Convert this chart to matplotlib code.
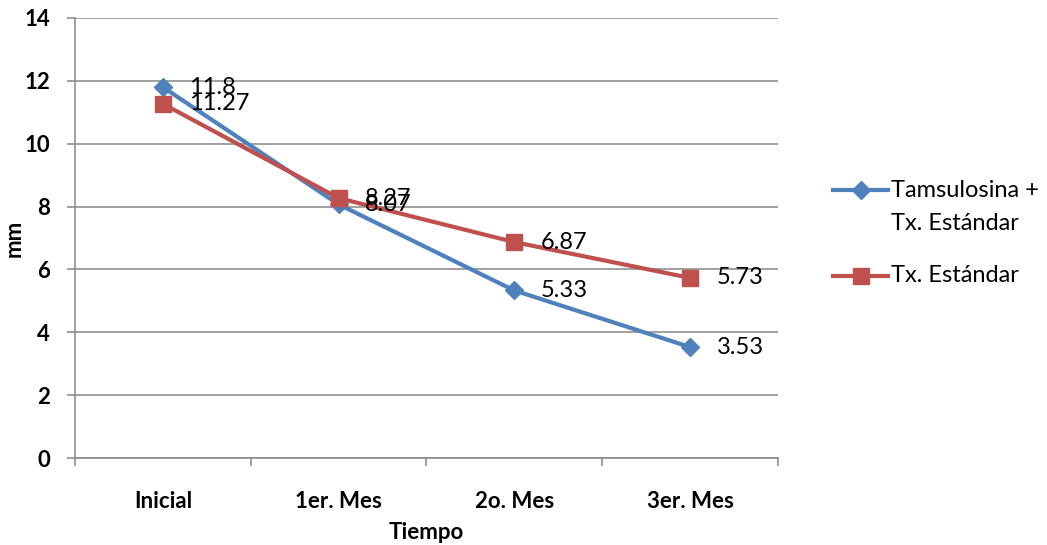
import numpy as np
import matplotlib.pyplot as plt
from matplotlib.lines import Line2D

plt.rcParams['font.family'] = ['Lato', 'DejaVu Sans']

categories = ['Inicial', '1er. Mes', '2o. Mes', '3er. Mes']
tamsulosina = [11.8, 8.07, 5.33, 3.53]
estandar = [11.27, 8.27, 6.87, 5.73]

blue = '#4F81BD'
red = '#C0504D'
grid_c = '#868686'

fig = plt.figure(figsize=(10.47, 5.45), dpi=100)
ax = fig.add_axes([0.0716, 0.1596, 0.6714, 0.8074])

x = np.arange(len(categories))
ax.plot(x, tamsulosina, color=blue, lw=3, marker='D', ms=9, zorder=3)
ax.plot(x, estandar, color=red, lw=3, marker='s', ms=11.5, zorder=4)

for vals in (tamsulosina, estandar):
    for xi, v in zip(x, vals):
        ax.annotate(f'{v:g}', (xi, v), xytext=(19, 0), textcoords='offset points',
                    va='center', ha='left', fontsize=17, zorder=5)

ax.set_xlim(-0.5, 3.5)
ax.set_ylim(0, 14)
ax.set_yticks(np.arange(0, 15, 2))
ax.yaxis.grid(True, color=grid_c, lw=1.1)
ax.set_axisbelow(True)

ax.set_xticks(x)
ax.set_xticklabels(categories, fontsize=16, fontweight='bold')
ax.set_xticks(np.arange(-0.5, 4, 1), minor=True)
ax.tick_params(axis='x', which='major', length=0, pad=24)
ax.tick_params(axis='x', which='minor', length=6, color=grid_c, width=1.1)
ax.tick_params(axis='y', length=6, color=grid_c, width=1.1, pad=12)
for lbl in ax.get_yticklabels():
    lbl.set_fontsize(16)
    lbl.set_fontweight('bold')

for side in ['top', 'right']:
    ax.spines[side].set_visible(False)
for side in ['left', 'bottom']:
    ax.spines[side].set_color(grid_c)
    ax.spines[side].set_linewidth(1.1)

ax.set_xlabel('Tiempo', fontsize=16, fontweight='bold')
ax.xaxis.set_label_coords(0.5, -0.145)
ax.set_ylabel('mm', fontsize=16, fontweight='bold')
ax.yaxis.set_label_coords(-0.071, 0.5)

# legend drawn by hand so the first handle sits on the first text line
legend_rows = [
    (0.6514, 0.6202, blue, 'D', 9, 'Tamsulosina +\nTx. Estándar'),
    (0.4936, 0.4936, red, 's', 11.5, 'Tx. Estándar'),
]
for y, ty, c, m, ms, txt in legend_rows:
    fig.add_artist(Line2D([0.7956, 0.848], [y, y], color=c, lw=3,
                          transform=fig.transFigure))
    fig.add_artist(Line2D([0.8223], [y], color=c, marker=m, ms=ms, lw=0,
                          transform=fig.transFigure))
    fig.text(0.851, ty, txt, fontsize=17, va='center', ha='left',
             linespacing=1.7)

fig.savefig('out.png', dpi=100)
